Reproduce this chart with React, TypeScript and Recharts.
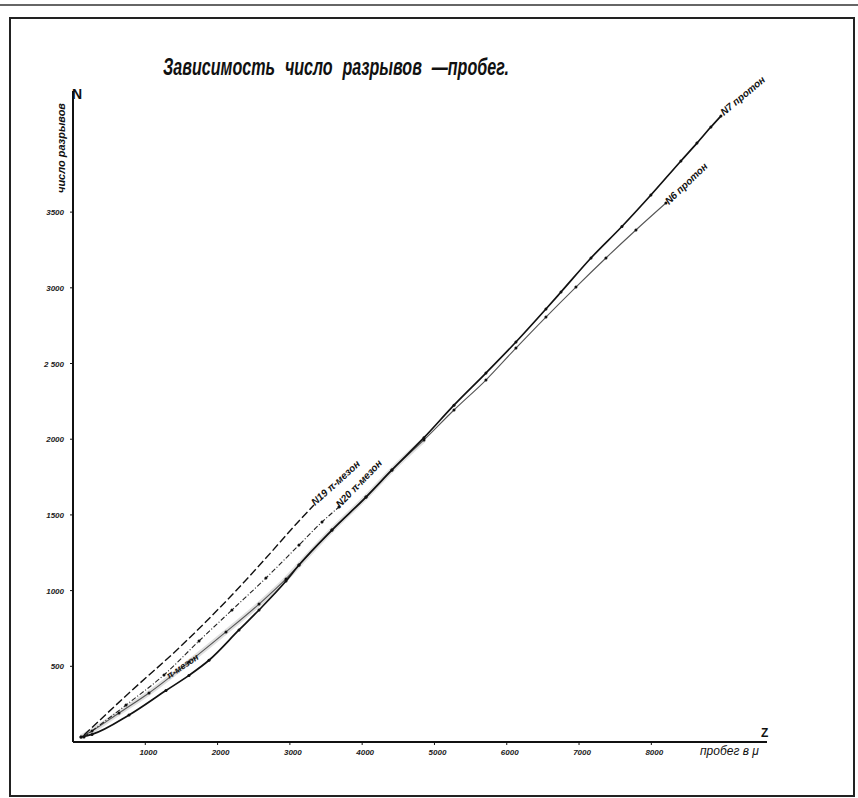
import { LineChart, Line, XAxis, YAxis, ReferenceDot } from 'recharts';

// пробег (μ) и число разрывов для каждого следа
const n7Run = [111, 263, 775, 1286, 1604, 1881, 2296, 2573, 2946, 3126, 3582, 4053, 4412, 4855, 5270, 5712, 6127, 6542, 6750, 7165, 7593, 7994, 8409, 8631, 8824, 8963];
const n7Count = [33, 50, 178, 340, 440, 540, 740, 872, 1063, 1169, 1400, 1618, 1797, 2010, 2225, 2437, 2642, 2860, 2972, 3197, 3405, 3613, 3838, 3956, 4062, 4135];

const n6Run = [111, 263, 636, 1051, 1604, 2116, 2573, 2946, 3126, 3582, 4053, 4412, 4855, 5270, 5712, 6127, 6542, 6957, 7372, 7787, 8202];
const n6Count = [33, 73, 192, 324, 528, 727, 911, 1077, 1169, 1400, 1618, 1797, 1995, 2193, 2391, 2602, 2807, 3005, 3197, 3382, 3560];

const n19Run = [152, 775, 1466, 2199, 2669, 3126, 3333];
const n19Count = [46, 324, 621, 971, 1215, 1460, 1565];

const n20Run = [152, 733, 1259, 1743, 2199, 2669, 3126, 3444, 3679];
const n20Count = [33, 244, 443, 667, 872, 1083, 1301, 1453, 1552];

const xTicks = [1000, 2000, 3000, 4000, 5000, 6000, 7000, 8000];
const yTicks = [500, 1000, 1500, 2000, 2500, 3000, 3500];
const yTickLabels = ['500', '1000', '1500', '2000', '2 500', '3000', '3500'];

const toPoints = (xs: number[], ys: number[]) => xs.map((x, i) => ({ x, y: ys[i] }));

const n7 = toPoints(n7Run, n7Count);
const n6 = toPoints(n6Run, n6Count);
const n19 = toPoints(n19Run, n19Count);
const n20 = toPoints(n20Run, n20Count);
// серая полоса под начальным участком N6
const n6Low = n6.slice(0, 13);

const hand = '"Liberation Sans", "DejaVu Sans", sans-serif';

// подпись вдоль кривой, повернутая под углом
const slanted = (text: string, dx: number, dy: number, angle: number, size = 10) => (p: any) => {
  const x = p.cx + dx;
  const y = p.cy + dy;
  return (
    <text x={x} y={y} transform={`rotate(${angle} ${x} ${y})`} fontFamily={hand} fontStyle="italic"
      fontWeight={700} fontSize={size} fill="#111">{text}</text>
  );
};

const XTick = (p: any) => (
  <text x={p.x + 3} y={p.y + 8} textAnchor="middle" fontFamily={hand} fontStyle="italic" fontWeight={700}
    fontSize={8} fill="#222">{p.payload.value}</text>
);

const YTick = (p: any) => {
  const i = yTicks.indexOf(p.payload.value);
  return (
    <text x={p.x - 4} y={p.y + 3} textAnchor="end" fontFamily={hand} fontStyle="italic" fontWeight={700}
      fontSize={8} fill="#222">{yTickLabels[i]}</text>
  );
};

const dot = { r: 1.5, fill: '#111', stroke: 'none' };

export default function App() {
  return (
    <div style={{ position: 'absolute', left: 0, top: 0, width: 858, height: 798, background: '#fff', overflow: 'hidden' }}>
      <div style={{ position: 'absolute', left: 0, top: 4, width: 858, height: 0, borderTop: '2px solid #666' }} />
      <div style={{ position: 'absolute', left: 9, top: 17, width: 842, height: 776, border: '2px solid #222' }} />
      <div style={{ position: 'absolute', left: 163, top: 53, fontFamily: hand, fontStyle: 'italic', fontWeight: 600,
        fontSize: 24, wordSpacing: 8, color: '#111', whiteSpace: 'nowrap', transform: 'scaleX(0.67)',
        transformOrigin: 'left top' }}>
        Зависимость число разрывов —пробег.
      </div>
      <div style={{ position: 'absolute', left: 61, top: 148, transform: 'translate(-50%, -50%) rotate(-90deg)',
        fontFamily: hand, fontStyle: 'italic', fontWeight: 600, fontSize: 11, color: '#111', whiteSpace: 'nowrap' }}>
        число разрывов
      </div>
      <div style={{ position: 'absolute', left: 72, top: 86, fontFamily: hand, fontWeight: 900, fontSize: 14, color: '#111' }}>N</div>
      <div style={{ position: 'absolute', left: 700, top: 744, fontFamily: hand, fontStyle: 'italic', fontSize: 12,
        color: '#111', whiteSpace: 'nowrap' }}>пробег в μ</div>
      <div style={{ position: 'absolute', left: 761, top: 726, fontFamily: hand, fontSize: 12, fontWeight: 700, color: '#111' }}>Z</div>
      <div style={{ position: 'absolute', left: 0, top: 0 }}>
        <LineChart width={858} height={798} margin={{ top: 91, right: 91, bottom: 26, left: 33 }}>
          <XAxis type="number" dataKey="x" domain={[0, 9600]} ticks={xTicks} allowDataOverflow
            height={30} axisLine={{ stroke: '#111', strokeWidth: 2 }} tickLine={{ stroke: '#111' }} tickSize={3}
            tick={<XTick />} />
          <YAxis type="number" dataKey="y" domain={[0, 4300]} ticks={yTicks} allowDataOverflow
            width={40} axisLine={{ stroke: '#111', strokeWidth: 2 }} tickLine={{ stroke: '#111' }} tickSize={3}
            tick={<YTick />} />
          <Line data={n6Low} dataKey="y" type="monotone" stroke="#bbb" strokeWidth={5} strokeOpacity={0.45} dot={false}
            isAnimationActive={false} />
          <Line data={n6} dataKey="y" type="monotone" stroke="#555" strokeWidth={1.1} dot={dot} isAnimationActive={false} />
          <Line data={n7} dataKey="y" type="monotone" stroke="#111" strokeWidth={1.7} dot={dot} isAnimationActive={false} />
          <Line data={n19} dataKey="y" type="monotone" stroke="#111" strokeWidth={1.4} strokeDasharray="8 3"
            dot={false} isAnimationActive={false} />
          <Line data={n20} dataKey="y" type="monotone" stroke="#222" strokeWidth={1.1} strokeDasharray="5 2 1 2"
            dot={dot} isAnimationActive={false} />
          <ReferenceDot x={n7Run[n7Run.length - 1]} y={n7Count[n7Count.length - 1]} r={0}
            shape={slanted('N7 протон', 3, 0, -40)} />
          <ReferenceDot x={n6Run[n6Run.length - 1]} y={n6Count[n6Count.length - 1]} r={0}
            shape={slanted('N6  протон', 3, 2, -44)} />
          <ReferenceDot x={n19Run[n19Run.length - 1]} y={n19Count[n19Count.length - 1]} r={0}
            shape={slanted('N19  π-мезон', 1, 1, -42)} />
          <ReferenceDot x={n20Run[n20Run.length - 1]} y={n20Count[n20Count.length - 1]} r={0}
            shape={slanted('N20  π-мезон', 1, 1, -46)} />
          <ReferenceDot x={n6Run[4]} y={n6Count[4]} r={0} shape={slanted('π-мезон', -20, 17, -34, 9)} />
        </LineChart>
      </div>
    </div>
  );
}
